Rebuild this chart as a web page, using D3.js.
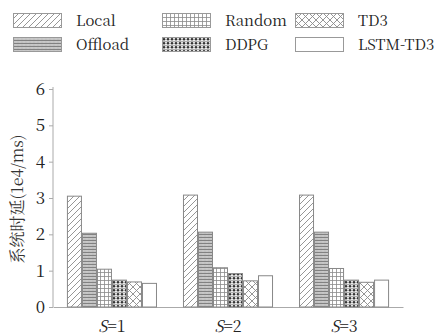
<!DOCTYPE html>
<html><head><meta charset="utf-8">
<script src="https://cdn.jsdelivr.net/npm/d3@7/dist/d3.min.js"></script>
</head><body style="margin:0">
<script>
const categories = ["S=1", "S=2", "S=3"];
const seriesNames = ["Local", "Offload", "Random", "DDPG", "TD3", "LSTM-TD3"];
const localVals   = [3.05, 3.08, 3.08];
const offloadVals = [2.03, 2.06, 2.06];
const randomVals  = [1.04, 1.08, 1.06];
const ddpgVals    = [0.74, 0.92, 0.74];
const td3Vals     = [0.69, 0.72, 0.68];
const lstmVals    = [0.65, 0.86, 0.74];
const yTicks = [0, 1, 2, 3, 4, 5, 6];
const yTitle = "系统时延(1e4/ms)";
const seriesValues = [localVals, offloadVals, randomVals, ddpgVals, td3Vals, lstmVals];

const W = 440, H = 336;
const SERIF = '"Noto Serif CJK SC", "Noto Serif", serif';
const svg = d3.select("body").append("svg").attr("width", W).attr("height", H);
const defs = svg.append("defs");

// patterns
function pat(id, w, h) {
  return defs.append("pattern").attr("id", id).attr("patternUnits", "userSpaceOnUse")
    .attr("width", w).attr("height", h);
}
let p = pat("p0", 6, 6);
p.append("rect").attr("width", 6).attr("height", 6).attr("fill", "#fff");
p.append("path").attr("d", "M-1,7 L7,-1 M-4,4 L4,-4 M2,10 L10,2").attr("stroke", "#8a8a8a").attr("stroke-width", 0.9);

p = pat("p1", 4, 3);
p.append("rect").attr("width", 4).attr("height", 3).attr("fill", "#d4d4d4");
p.append("path").attr("d", "M0,0.5 H4").attr("stroke", "#777").attr("stroke-width", 0.9);
p.append("circle").attr("cx", 1).attr("cy", 2).attr("r", 0.6).attr("fill", "#888");
p.append("circle").attr("cx", 3).attr("cy", 2).attr("r", 0.6).attr("fill", "#999");

p = pat("p2", 4, 4);
p.append("rect").attr("width", 4).attr("height", 4).attr("fill", "#fff");
p.append("path").attr("d", "M0,0.5 H4 M0.5,0 V4").attr("stroke", "#8a8a8a").attr("stroke-width", 0.8);

p = pat("p3", 4, 4);
p.append("rect").attr("width", 4).attr("height", 4).attr("fill", "#eee");
p.append("path").attr("d", "M0,0.4 H4").attr("stroke", "#777").attr("stroke-width", 0.6);
p.append("circle").attr("cx", 2).attr("cy", 2.3).attr("r", 1.25).attr("fill", "#333");

p = pat("p4", 7, 7);
p.append("rect").attr("width", 7).attr("height", 7).attr("fill", "#fff");
p.append("path").attr("d", "M0,0 L7,7 M7,0 L0,7").attr("stroke", "#8a8a8a").attr("stroke-width", 0.9);

p = pat("p5", 4, 4);
p.append("rect").attr("width", 4).attr("height", 4).attr("fill", "#fff");

const fills = ["url(#p0)", "url(#p1)", "url(#p2)", "url(#p3)", "url(#p4)", "url(#p5)"];

// scales
const x0 = d3.scaleBand().domain(categories).range([53, 403]).paddingInner(0.224).paddingOuter(0.12);
const x1 = d3.scaleBand().domain(seriesNames).range([0, x0.bandwidth()]);
const y = d3.scaleLinear().domain([0, 6]).range([307, 89]);

// axes
const axisColor = "#aaa";
const yAxis = svg.append("g").attr("transform", "translate(53,0)")
  .call(d3.axisLeft(y).tickValues(yTicks).tickFormat(d3.format("d")).tickSize(4).tickPadding(4));
yAxis.attr("font-family", null).attr("font-size", null);
yAxis.select(".domain").attr("stroke", axisColor).attr("d", "M0," + (y(6) - 2) + "V" + y(0));
yAxis.selectAll(".tick line").attr("stroke", axisColor);
yAxis.selectAll(".tick text").attr("font-size", 17).style("font-family", SERIF).attr("fill", "#222");

const xAxis = svg.append("g").attr("transform", "translate(0,307)")
  .call(d3.axisBottom(x0).tickSize(0).tickPadding(14).tickFormat(""));
xAxis.attr("font-family", null).attr("font-size", null);
xAxis.select(".domain").attr("stroke", axisColor);
xAxis.selectAll(".tick").each(function(d) {
  const parts = d.split("=");
  const t = d3.select(this).append("text").attr("y", 25).attr("text-anchor", "middle")
    .attr("font-size", 16).style("font-family", SERIF).attr("fill", "#222");
  t.append("tspan").attr("font-style", "italic").text(parts[0]);
  t.append("tspan").text("=" + parts[1]);
});

// bars
seriesNames.forEach((s, si) => {
  svg.append("g").selectAll("rect").data(categories).join("rect")
    .attr("x", c => x0(c) + x1(s) + 0.5)
    .attr("y", (c, i) => y(seriesValues[si][i]))
    .attr("width", x1.bandwidth() - 1)
    .attr("height", (c, i) => y(0) - y(seriesValues[si][i]))
    .attr("fill", fills[si]).attr("stroke", "#888").attr("stroke-width", 1);
});

// y title
svg.append("text").attr("transform", "translate(23,199) rotate(-90)")
  .attr("text-anchor", "middle").attr("font-size", 16)
  .style("font-family", SERIF).attr("fill", "#333").text(yTitle);

// legend
const legCols = [13, 162, 295];
const legRows = [13, 37];
seriesNames.forEach((s, i) => {
  const col = Math.floor(i / 2), row = i % 2;
  const g = svg.append("g").attr("transform", `translate(${legCols[col]},${legRows[row]})`);
  g.append("rect").attr("x", 0.5).attr("y", 0.5).attr("width", 48).attr("height", 14)
    .attr("fill", fills[i]).attr("stroke", "#999");
  g.append("text").attr("x", 63).attr("y", 13).attr("font-size", 15)
    .style("font-family", SERIF).attr("fill", "#222").text(s);
});
</script>
</body></html>
